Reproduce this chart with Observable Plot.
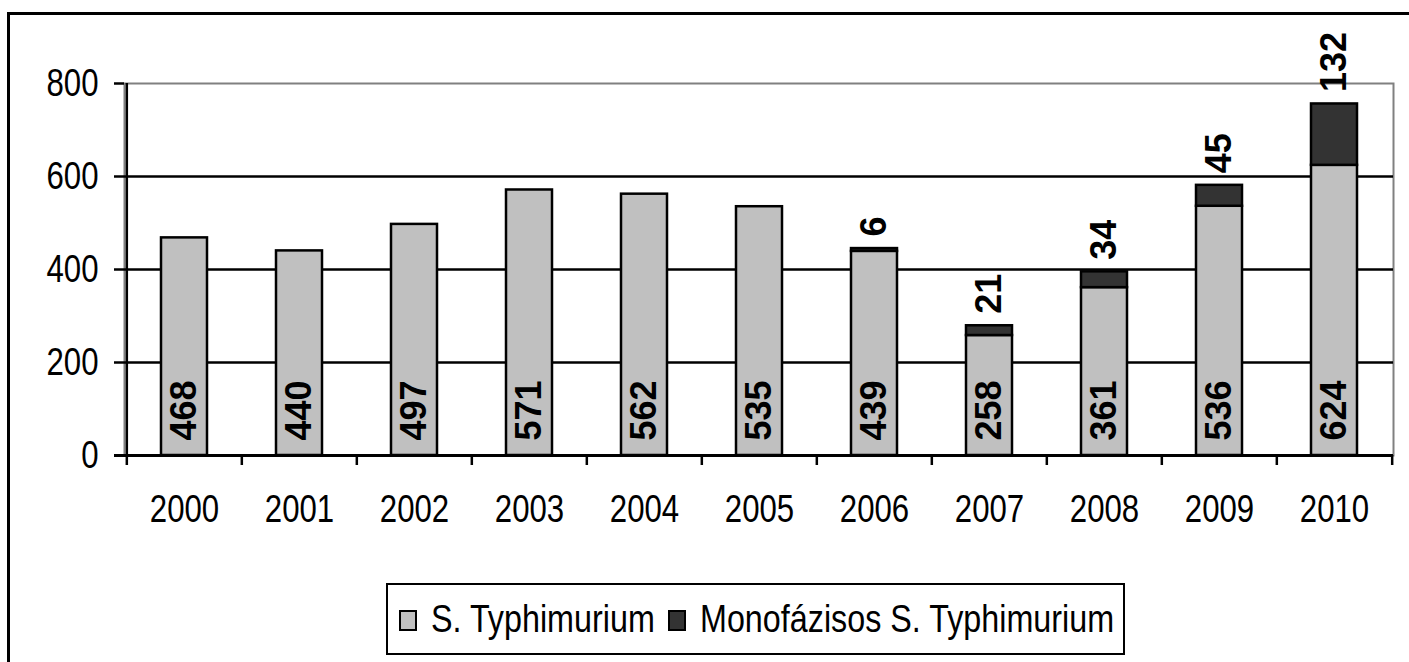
<!DOCTYPE html>
<html>
<head>
<meta charset="utf-8">
<script src="https://cdn.jsdelivr.net/npm/d3@7"></script>
<script src="https://cdn.jsdelivr.net/npm/@observablehq/plot@0.6"></script>
<style>
  html, body { margin: 0; padding: 0; background: #fff; overflow: hidden; width: 1409px; height: 662px; }
  #frame { position: absolute; left: 7px; top: 12px; width: 1500px; height: 800px; border-left: 3px solid #000; border-top: 3px solid #000; }
  #chart { position: absolute; left: 0; top: 0; }
  #legend { position: absolute; left: 386px; top: 583px; width: 739px; height: 72px; box-sizing: border-box;
            border: 2.5px solid #000; display: flex; align-items: center; padding-left: 11px;
            font-family: 'Liberation Sans', Arial, sans-serif; font-size: 38px; color: #000; background: #fff; }
  .item { display: flex; align-items: center; margin-right: 13px; white-space: nowrap; }
  .sw { width: 14px; height: 17px; border: 2px solid #000; margin-right: 14px; margin-top: 2px; flex: none; }
  .lbl { display: inline-block; transform-origin: 0 50%; }
</style>
</head>
<body>
<div id="frame"></div>
<div id="chart"></div>
<div id="legend"></div>
<script>
const years = ["2000","2001","2002","2003","2004","2005","2006","2007","2008","2009","2010"];
const typhimurium = [468, 440, 497, 571, 562, 535, 439, 258, 361, 536, 624];
const monophasic  = [0, 0, 0, 0, 0, 0, 6, 21, 34, 45, 132];
const seriesNames = ["S. Typhimurium", "Monofázisos S. Typhimurium"];
const seriesColors = ["#c0c0c0", "#333333"];
const yTicks = [0, 200, 400, 600, 800];

const W = 1409, H = 560, mL = 124, mR = 16, mT = 83, mB = 105;
const step = (W - mL - mR) / years.length;
const condense = 0.82;
const legendCondense = 0.85;

const rows = [];
years.forEach((yr, i) => {
  rows.push({year: yr, series: seriesNames[0], value: typhimurium[i]});
  if (monophasic[i] > 0) rows.push({year: yr, series: seriesNames[1], value: monophasic[i]});
});
const totals = years.map((yr, i) => ({year: yr, typ: typhimurium[i], mono: monophasic[i], total: typhimurium[i] + monophasic[i]}));

const chart = Plot.plot({
  width: W, height: H,
  marginLeft: mL, marginRight: mR, marginTop: mT, marginBottom: mB,
  style: {fontFamily: "'Liberation Sans', Arial, sans-serif", fontSize: "38px", background: "transparent", color: "#000", overflow: "visible"},
  x: {domain: years, paddingInner: 0.6, paddingOuter: 0.3, tickSize: 0, tickPadding: 40, label: null},
  y: {domain: [0, 800], ticks: yTicks, tickSize: 0, tickPadding: 26, label: null, tickFormat: d => String(d)},
  color: {domain: seriesNames, range: seriesColors},
  marks: [
    Plot.frame({stroke: "#808080", strokeWidth: 2}),
    Plot.ruleY(yTicks.filter(v => v > 0 && v < 800), {insetLeft: -10, stroke: "#000", strokeWidth: 2.5}),
    Plot.ruleY([800], {insetLeft: -10, insetRight: W - mL - mR, stroke: "#000", strokeWidth: 2.5}),
    Plot.barY(rows, {x: "year", y: "value", fill: "series", stroke: "#000", strokeWidth: 2.5}),
    Plot.ruleY([0], {insetLeft: -10, stroke: "#000", strokeWidth: 3}),
    Plot.ruleX([years[0]], {dx: -step / 2, y1: 800, y2: 0, insetBottom: -10, stroke: "#000", strokeWidth: 2.5}),
    Plot.ruleX(years.slice(1), {dx: -step / 2, y1: 0, y2: 0, insetBottom: -10, stroke: "#000", strokeWidth: 2.5}),
    Plot.ruleX([years[years.length - 1]], {dx: step / 2, y1: 0, y2: 0, insetBottom: -10, stroke: "#000", strokeWidth: 2.5}),
    Plot.text(totals, {x: "year", y: () => 0, text: d => String(d.typ), rotate: -90, textAnchor: "start", dy: -15,
      fontWeight: "bold", fontSize: 36, fill: "#000"}),
    Plot.text(totals.filter(d => d.mono > 0), {x: "year", y: "total", text: d => String(d.mono), rotate: -90, textAnchor: "start", dy: -12,
      fontWeight: "bold", fontSize: 36, fill: "#000"})
  ]
});
document.getElementById("chart").appendChild(chart);

// condense the axis tick labels (narrow face look)
chart.querySelectorAll('g[aria-label*="axis"] text').forEach(t => {
  const len = t.getComputedTextLength();
  if (len > 0) {
    t.setAttribute("textLength", (len * condense).toFixed(2));
    t.setAttribute("lengthAdjust", "spacingAndGlyphs");
  }
});

const legend = document.getElementById("legend");
seriesNames.forEach((name, i) => {
  const item = document.createElement("div");
  item.className = "item";
  const sw = document.createElement("div");
  sw.className = "sw";
  sw.style.background = seriesColors[i];
  const label = document.createElement("span");
  label.className = "lbl";
  label.textContent = name;
  item.appendChild(sw);
  item.appendChild(label);
  legend.appendChild(item);
  const w = label.getBoundingClientRect().width;
  label.style.transform = `scaleX(${legendCondense})`;
  label.style.marginRight = `${-w * (1 - legendCondense)}px`;
});
</script>
</body>
</html>
